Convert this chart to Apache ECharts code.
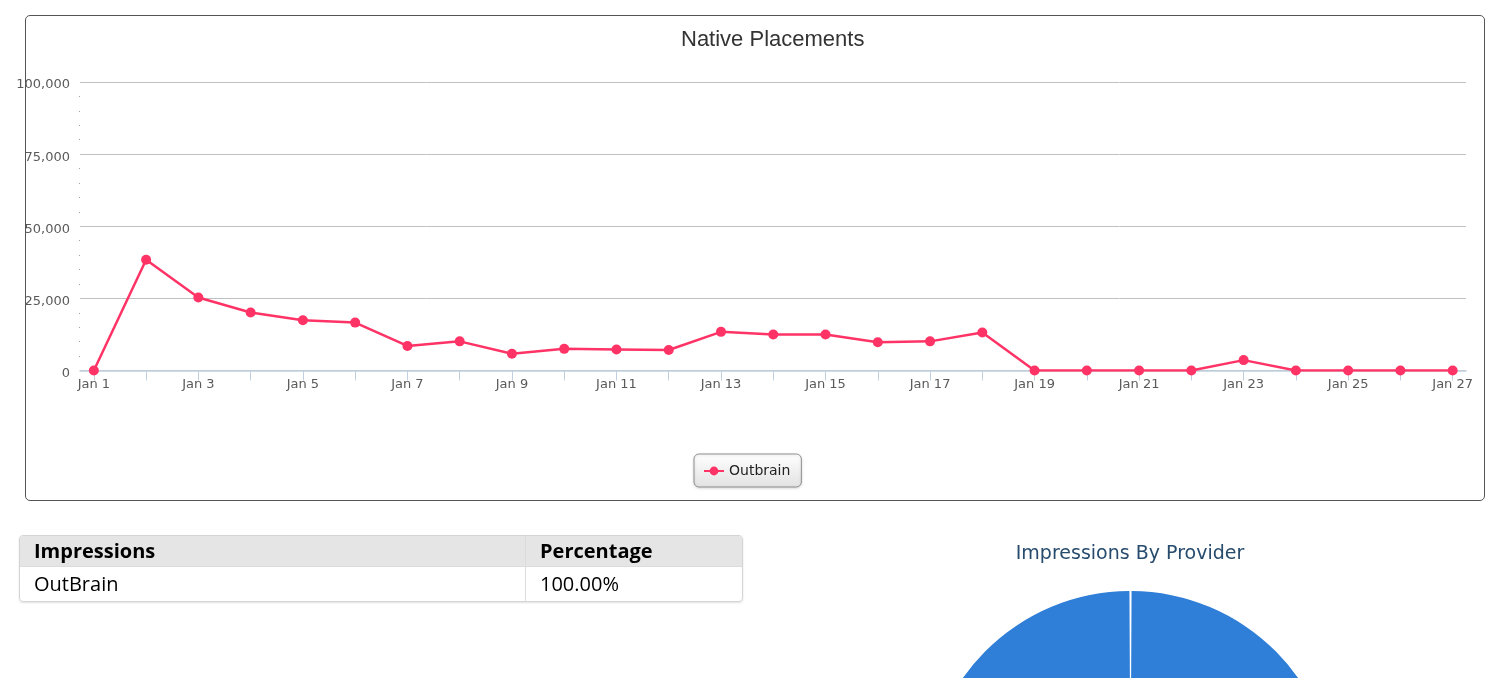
<!DOCTYPE html>
<html>
<head>
<meta charset="utf-8">
<script src="https://cdn.jsdelivr.net/npm/echarts@6/dist/echarts.min.js"></script>
<style>
html, body { margin: 0; padding: 0; background: #fff; }
#box { position: absolute; left: 25px; top: 15px; width: 1458px; height: 484px; border: 1px solid #555; border-radius: 5px; }
#chart { position: absolute; left: 0; top: 0; width: 1502px; height: 678px; }
#tbl { position: absolute; left: 19px; top: 535px; table-layout: fixed; border-collapse: separate; border-spacing: 0;
  border: 1px solid #d4d4d4; border-radius: 4px; font-family: "Open Sans", sans-serif; color: #000;
  box-shadow: 0 1px 2px rgba(0,0,0,0.12); overflow: hidden; }
#tbl th { background: #e5e5e5; font-weight: 700; text-align: left; height: 30px; padding: 0 14px; font-size: 20px; border-bottom: 1px solid #dcdcdc; line-height: 30px; }
#tbl td { height: 34px; padding: 0 14px; font-size: 20px; line-height: 34px; }
#tbl .c2 { border-left: 1px solid #dcdcdc; }
</style>
</head>
<body>
<div id="box"></div>
<div id="chart"></div>
<table id="tbl">
  <colgroup><col style="width:505px"><col style="width:217px"></colgroup>
  <thead><tr><th>Impressions</th><th class="c2">Percentage</th></tr></thead>
  <tbody><tr><td>OutBrain</td><td class="c2">100.00%</td></tr></tbody>
</table>
<script>
// ---- data ----
const dayLabels = ['Jan 1','Jan 2','Jan 3','Jan 4','Jan 5','Jan 6','Jan 7','Jan 8','Jan 9','Jan 10',
  'Jan 11','Jan 12','Jan 13','Jan 14','Jan 15','Jan 16','Jan 17','Jan 18','Jan 19','Jan 20',
  'Jan 21','Jan 22','Jan 23','Jan 24','Jan 25','Jan 26','Jan 27'];
const outbrain = [0, 38400, 25300, 20100, 17400, 16600, 8500, 10100, 5800, 7500,
  7300, 7100, 13400, 12500, 12500, 9800, 10100, 13200, 0, 0,
  0, 0, 3600, 0, 0, 0, 0];
const yTicks = [0, 25000, 50000, 75000, 100000];
const providers = ['OutBrain'];
const providerShare = [100];

const dayNums = dayLabels.map((_, i) => i + 1);
const labelDays = dayNums.filter(d => d % 2 === 1);
const lineData = outbrain.map((v, i) => [dayNums[i], v]);

const chart = echarts.init(document.getElementById('chart'), null, { renderer: 'canvas' });
chart.setOption({
  animation: false,
  title: [
    { text: 'Native Placements', left: 681, top: 29, padding: 0,
      textStyle: { fontFamily: 'Liberation Sans', fontSize: 22, fontWeight: 'normal', color: '#333333' } },
    { text: 'Impressions By Provider', left: 1130, top: 545, padding: 0, textAlign: 'center',
      textStyle: { fontFamily: 'DejaVu Sans', fontSize: 19, fontWeight: 'normal', color: '#274b6d' } }
  ],
  legend: {
    data: ['Outbrain'], left: 694, top: 454, orient: 'horizontal',
    padding: [10, 11, 9, 9], itemWidth: 20, itemHeight: 11, itemGap: 5,
    borderColor: '#909090', borderWidth: 1, borderRadius: 5,
    backgroundColor: new echarts.graphic.LinearGradient(0, 0, 0, 1, [
      { offset: 0, color: '#ffffff' }, { offset: 1, color: '#e2e2e2' }]),
    shadowColor: 'rgba(0,0,0,0.15)', shadowBlur: 3, shadowOffsetY: 1,
    textStyle: { fontFamily: 'DejaVu Sans', fontSize: 14, color: '#222' }
  },
  grid: { left: 80, right: 36, top: 82, bottom: 307.5, containLabel: false },
  xAxis: {
    type: 'value', min: 0.735, max: 27.255,
    splitLine: { show: false },
    axisLine: { show: true, lineStyle: { color: '#c0d0e0', width: 1.5 } },
    axisTick: { show: true, customValues: dayNums, length: 10, lineStyle: { color: '#c0d0e0' } },
    axisLabel: { show: true, customValues: labelDays, margin: 8,
      formatter: v => dayLabels[Math.round(v) - 1],
      fontFamily: 'DejaVu Sans', fontSize: 13, color: '#5a5a5a' }
  },
  yAxis: {
    type: 'value', min: yTicks[0], max: yTicks[yTicks.length - 1], interval: 25000,
    axisLine: { show: false },
    axisTick: { show: false },
    minorTick: { show: true, splitNumber: 5, length: 1, lineStyle: { color: '#a0a0a0', width: 1 } },
    splitLine: { show: true, lineStyle: { color: '#c0c0c0', width: 1 } },
    axisLabel: { margin: 10,
      formatter: v => '{t|' + v.toLocaleString('en-US') + '}',
      rich: { t: { fontFamily: 'DejaVu Sans', fontSize: 13, color: '#5a5a5a', padding: [6, 0, 0, 0] } } }
  },
  series: [
    {
      name: 'Outbrain', type: 'line', data: lineData,
      symbol: 'circle', symbolSize: 10, showSymbol: true,
      lineStyle: { color: '#ff3366', width: 2.5 },
      itemStyle: { color: '#ff3366' },
      z: 3
    },
    {
      name: 'Impressions By Provider', type: 'pie',
      center: [1130.5, 796], radius: 205, startAngle: 90, clockwise: true,
      padAngle: 0.6, silent: true,
      label: { show: false }, labelLine: { show: false },
      itemStyle: { color: '#2f7ed8' },
      data: providers.map((p, i) => ({ name: p, value: providerShare[i] }))
    }
  ]
});
</script>
</body>
</html>
